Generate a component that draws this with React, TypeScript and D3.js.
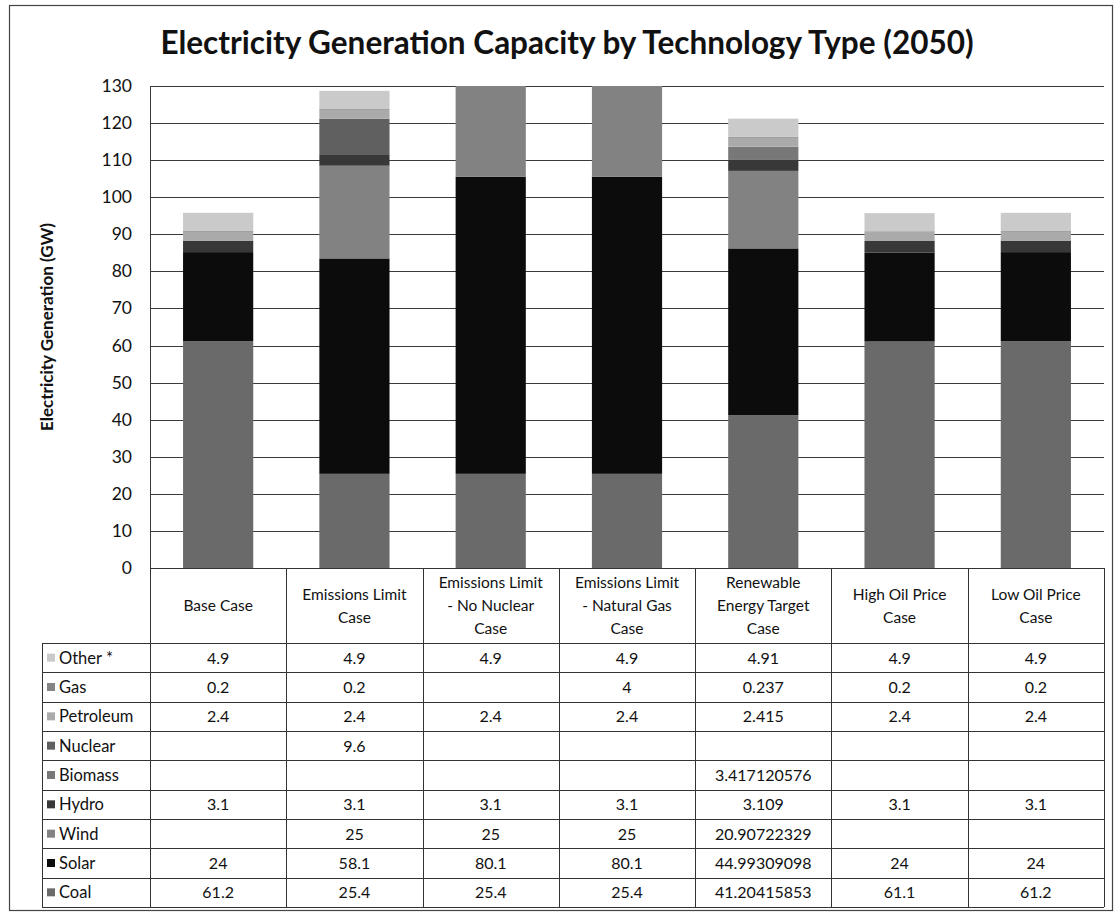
import React from "react";
import * as d3 from "d3";

const categories = [
  "Base Case",
  "Emissions Limit Case",
  "Emissions Limit - No Nuclear Case",
  "Emissions Limit - Natural Gas Case",
  "Renewable Energy Target Case",
  "High Oil Price Case",
  "Low Oil Price Case",
];
const categoryLines = [
  ["Base Case"],
  ["Emissions Limit", "Case"],
  ["Emissions Limit", "- No Nuclear", "Case"],
  ["Emissions Limit", "- Natural Gas", "Case"],
  ["Renewable", "Energy Target", "Case"],
  ["High Oil Price", "Case"],
  ["Low Oil Price", "Case"],
];

// stacking order bottom -> top
const seriesNames = ["Coal", "Solar", "Wind", "Hydro", "Biomass", "Nuclear", "Petroleum", "Gas", "Other"];
const legendLabels = ["Coal", "Solar", "Wind", "Hydro", "Biomass", "Nuclear", "Petroleum", "Gas", "Other *"];

const coal = [61.2, 25.4, 25.4, 25.4, 41.20415853, 61.1, 61.2];
const solar = [24, 58.1, 80.1, 80.1, 44.99309098, 24, 24];
const wind = [null, 25, 25, 25, 20.90722329, null, null];
const hydro = [3.1, 3.1, 3.1, 3.1, 3.109, 3.1, 3.1];
const biomass = [null, null, null, null, 3.417120576, null, null];
const nuclear = [null, 9.6, null, null, null, null, null];
const petroleum = [2.4, 2.4, 2.4, 2.4, 2.415, 2.4, 2.4];
const gas = [0.2, 0.2, null, 4, 0.237, 0.2, 0.2];
const other = [4.9, 4.9, 4.9, 4.9, 4.91, 4.9, 4.9];

const seriesValues: (number | null)[][] = [coal, solar, wind, hydro, biomass, nuclear, petroleum, gas, other];

const yTicks = [0, 10, 20, 30, 40, 50, 60, 70, 80, 90, 100, 110, 120, 130];

const colors: Record<string, string> = {
  Coal: "#6a6a6a",
  Solar: "#0c0c0c",
  Wind: "#828282",
  Hydro: "#383838",
  Biomass: "#787878",
  Nuclear: "#606060",
  Petroleum: "#aaaaaa",
  Gas: "#858585",
  Other: "#cacaca",
};

const FONT = "Lato, 'Open Sans', sans-serif";

export default function App() {
  const W = 1114;
  const H = 912;
  const plotL = 150;
  const plotR = 1104;
  const plotT = 86;
  const plotB = 568;
  const headerB = 643;
  const rowH = (907 - headerB) / 9;
  const tableL = 42;

  const x = d3.scaleBand<string>().domain(categories).range([plotL, plotR]).padding(0);
  const y = d3.scaleLinear().domain([0, 130]).range([plotB, plotT]);
  const bw = x.bandwidth() * 0.515;

  const rows = categories.map((c, i) => {
    const r: Record<string, any> = { cat: c };
    seriesNames.forEach((s, k) => {
      r[s] = seriesValues[k][i] ?? 0;
    });
    return r;
  });
  const stacked = d3.stack<Record<string, any>>().keys(seriesNames)(rows);

  const tableOrder = seriesNames.map((_, k) => k).reverse();

  return (
    <svg
      width={W}
      height={H}
      style={{ position: "absolute", left: 0, top: 0, background: "#fff" }}
      fontFamily={FONT}
    >
      <rect x={9.5} y={5.5} width={1103} height={905} fill="#fff" stroke="#444" strokeWidth={1.2} />
      <text x={567} y={54} textAnchor="middle" fontSize={31.5} fontWeight="bold" fill="#111">
        Electricity Generation Capacity by Technology Type (2050)
      </text>

      {yTicks.map((t) => (
        <line key={t} x1={plotL} x2={plotR} y1={Math.round(y(t)) + 0.5} y2={Math.round(y(t)) + 0.5} stroke="#3a3a3a" strokeWidth={1} />
      ))}
      <line x1={plotL + 0.5} x2={plotL + 0.5} y1={plotT} y2={plotB} stroke="#3a3a3a" />

      {yTicks.map((t) => (
        <text key={t} x={132} y={y(t) + 6} textAnchor="end" fontSize={17.5} fill="#111">
          {t}
        </text>
      ))}
      <text
        transform={`translate(53,${(plotT + plotB) / 2}) rotate(-90)`}
        textAnchor="middle"
        fontSize={17}
        fontWeight="bold"
        fill="#111"
      >
        Electricity Generation (GW)
      </text>

      <defs>
        <clipPath id="plotClip">
          <rect x={plotL} y={plotT} width={plotR - plotL} height={plotB - plotT} />
        </clipPath>
      </defs>
      <g clipPath="url(#plotClip)">
        {stacked.map((layer) => (
          <g key={layer.key} fill={colors[layer.key]}>
            {layer.map((d, i) =>
              d[1] - d[0] > 0 ? (
                <rect
                  key={i}
                  x={(x(categories[i]) as number) + (x.bandwidth() - bw) / 2}
                  y={y(d[1])}
                  width={bw}
                  height={y(d[0]) - y(d[1])}
                />
              ) : null
            )}
          </g>
        ))}
      </g>

      <g stroke="#333" strokeWidth={1} fill="none">
        <line x1={plotL} x2={plotR} y1={plotB + 0.5} y2={plotB + 0.5} />
        {d3.range(10).map((r) => (
          <line key={r} x1={tableL} x2={plotR} y1={Math.round(headerB + r * rowH) + 0.5} y2={Math.round(headerB + r * rowH) + 0.5} />
        ))}
        <line x1={tableL + 0.5} x2={tableL + 0.5} y1={headerB} y2={907} />
        {categories.map((c) => (
          <line key={c} x1={Math.round(x(c) as number) + 0.5} x2={Math.round(x(c) as number) + 0.5} y1={plotB} y2={907} />
        ))}
        <line x1={plotR + 0.5} x2={plotR + 0.5} y1={plotB} y2={907} />
      </g>

      {categories.map((c, i) => {
        const lines = categoryLines[i];
        const lh = 23;
        const cy = (plotB + headerB) / 2;
        const start = cy - ((lines.length - 1) * lh) / 2;
        return (
          <text key={c} textAnchor="middle" fontSize={15.5} fill="#111">
            {lines.map((l, j) => (
              <tspan key={j} x={(x(c) as number) + x.bandwidth() / 2} y={start + j * lh + 5.5}>
                {l}
              </tspan>
            ))}
          </text>
        );
      })}

      {tableOrder.map((k, r) => {
        const cy = headerB + r * rowH + rowH / 2;
        return (
          <g key={k}>
            <rect x={47} y={cy - 4} width={8} height={8} fill={colors[seriesNames[k]]} />
            <text x={59} y={cy + 6} fontSize={16.5} fill="#111">
              {legendLabels[k]}
            </text>
            {categories.map((c, i) => {
              const v = seriesValues[k][i];
              return v == null ? null : (
                <text key={c} x={(x(c) as number) + x.bandwidth() / 2} y={cy + 6} textAnchor="middle" fontSize={16} fill="#111">
                  {String(v)}
                </text>
              );
            })}
          </g>
        );
      })}
    </svg>
  );
}
